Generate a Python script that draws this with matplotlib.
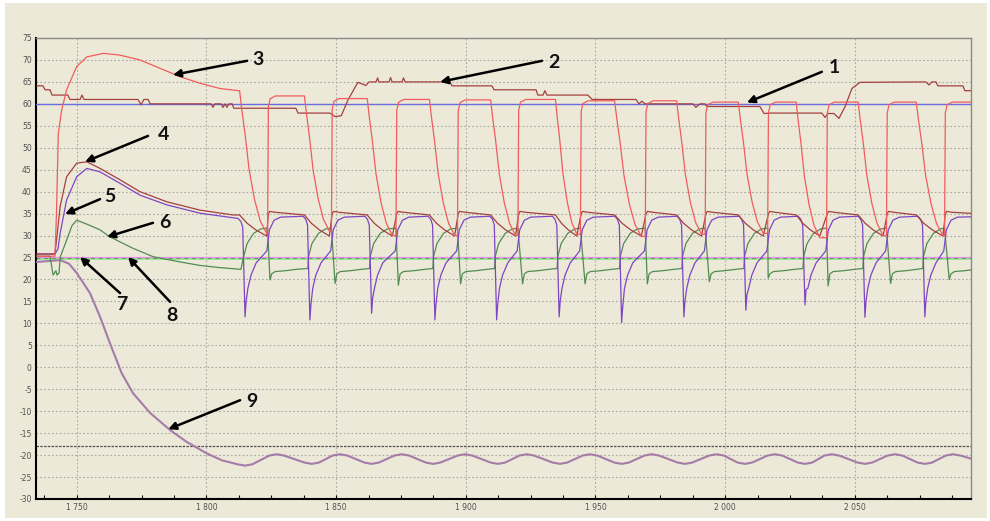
import matplotlib
matplotlib.use("Agg")
import matplotlib.pyplot as plt
from matplotlib.ticker import MultipleLocator
from matplotlib.patches import Rectangle

# -----------------------------
# Values
# -----------------------------
x_ticks = [1750, 1800, 1850, 1900, 1950, 2000, 2050]
x_tick_labels = ["1 750", "1 800", "1 850", "1 900", "1 950", "2 000", "2 050"]
y_ticks = [-30, -25, -20, -15, -10, -5, 0, 5, 10, 15, 20, 25, 30, 35, 40, 45, 50, 55, 60, 65, 70, 75]
x_range = [1734.3, 2094.8]
y_range = [-30, 75]

level_1 = 60.0      # trace 1
level_7 = 25.2      # trace 7
level_8 = 24.9      # trace 8
level_limit = -18.0

# trace 2 (stepped)
t2 = [1734.7, 1737.0, 1737.8, 1739.7, 1740.5, 1746.6, 1747.4, 1751.3, 1752.0, 1752.8,
      1773.6, 1774.8, 1775.9, 1777.5, 1778.3, 1801.8, 1802.5, 1803.3, 1805.6, 1806.4,
      1807.2, 1807.9, 1808.7, 1809.9, 1810.6, 1834.5, 1835.3, 1847.6, 1849.6, 1852.0,
      1854.6, 1858.4, 1861.5, 1862.7, 1865.4, 1866.0, 1866.5, 1870.4, 1871.0, 1871.6,
      1875.4, 1876.0, 1876.6, 1893.9, 1894.7, 1910.1, 1910.9, 1927.1, 1927.8, 1929.8,
      1930.5, 1931.3, 1947.1, 1948.7, 1965.6, 1966.8, 1967.9, 1969.1, 1987.6, 1988.7,
      1990.3, 1992.2, 1993.0, 2013.4, 2015.0, 2017.3, 2037.3, 2038.5, 2039.6, 2041.9,
      2043.9, 2046.2, 2048.9, 2052.0, 2077.4, 2078.6, 2079.7, 2081.3, 2082.0, 2091.7,
      2092.4, 2094.8]
v2 = [64.1, 64.1, 63.2, 63.2, 62.0, 62.0, 61.0, 61.0, 62.0, 61.0,
      61.0, 59.8, 61.0, 61.0, 60.0, 60.0, 59.2, 60.0, 60.0, 59.2,
      60.0, 59.2, 60.0, 60.0, 59.0, 59.0, 57.9, 57.9, 57.1, 57.3,
      60.9, 64.9, 64.2, 65.0, 65.0, 65.9, 65.0, 65.0, 66.0, 65.0,
      65.0, 65.9, 65.0, 65.0, 64.1, 64.1, 63.2, 63.2, 62.0, 62.0,
      63.0, 62.0, 62.0, 61.0, 61.0, 60.0, 60.6, 60.0, 60.0, 59.2,
      60.0, 60.0, 59.4, 59.4, 57.8, 57.9, 57.9, 56.9, 57.8, 57.8,
      56.7, 59.3, 63.5, 64.9, 65.0, 64.3, 65.0, 65.0, 64.1, 64.1,
      63.0, 63.0]

red_fall = [1812.8, 1837.8, 1862.0, 1886.0, 1909.6, 1934.6, 1957.4, 1981.3, 2005.1, 2027.4, 2051.3, 2073.7]
red_bottom = [1823.2, 1847.4, 1871.7, 1895.7, 1919.2, 1942.8, 1967.7, 1990.9, 2014.7, 2036.5, 2060.9, 2084.0]
red_rise = [1823.6, 1848.2, 1873.1, 1896.8, 1920.1, 1944.2, 1969.2, 1992.3, 2016.4, 2039.1, 2062.2, 2084.6]
red_top = [61.8, 61.2, 61.0, 60.9, 61.0, 60.7, 60.7, 60.4, 60.4, 60.4, 60.4, 60.4]
red_low = [30.5, 31.0, 30.0, 30.0, 30.0, 30.3, 29.8, 30.3, 30.5, 29.5, 30.0, 30.0]

purple_min_t = [1814.9, 1839.9, 1863.7, 1888.1, 1911.9, 1936.0, 1960.1, 1984.1, 2008.0, 2030.8, 2053.9, 2077.0]
purple_min = [11.5, 10.8, 12.3, 10.8, 10.8, 11.5, 10.2, 11.5, 13.0, 14.2, 11.4, 11.5]

green_dip_t = [1824.5, 1849.6, 1874.0, 1898.0, 1921.9, 1946.0, 1970.0, 1993.9, 2016.6, 2039.7, 2063.8, 2086.4]
green_dip = [19.9, 19.1, 18.7, 19.0, 19.0, 19.0, 19.0, 19.5, 20.3, 18.5, 19.1, 20.0]

# start-up part of each trace, before the cycling begins
t3_start = [1734.7, 1741.6, 1742.2, 1742.9, 1744.2, 1746.1, 1750.0, 1753.9, 1760.3, 1766.7,
            1774.4, 1782.1, 1789.8, 1797.5, 1805.2, 1812.3]
v3_start = [25.3, 25.3, 35.0, 53.3, 58.6, 63.2, 68.5, 70.7, 71.5, 71.1,
            70.0, 68.1, 66.2, 64.7, 63.5, 63.0]

t4_start = [1734.7, 1741.6, 1742.4, 1743.6, 1746.1, 1750.0, 1753.9, 1759.0, 1766.7, 1774.4,
            1784.7, 1797.5, 1810.2]
v4_start = [25.8, 25.8, 30.0, 36.6, 43.4, 46.5, 46.8, 45.3, 42.7, 40.0,
            37.7, 35.8, 34.7]

t5_start = [1734.7, 1741.6, 1742.8, 1743.6, 1746.1, 1750.0, 1753.9, 1759.0, 1766.7, 1774.4,
            1784.7, 1797.5, 1812.2]
v5_start = [25.8, 25.8, 27.0, 30.5, 38.1, 43.4, 45.3, 44.5, 41.9, 39.2,
            37.0, 35.1, 33.9]

t6_start = [1734.7, 1739.7, 1740.5, 1740.9, 1742.0, 1742.4, 1743.2, 1743.6, 1746.1, 1748.2,
            1750.0, 1753.9, 1759.0, 1762.8, 1771.7, 1779.4, 1789.8, 1797.5, 1805.2, 1813.3]
v6_start = [25.3, 25.3, 22.5, 21.0, 22.0, 21.0, 21.5, 25.0, 29.0, 32.3,
            33.5, 32.6, 31.3, 29.7, 27.1, 25.2, 24.0, 23.2, 22.7, 22.3]

red_fall_frac = [0.0, 0.08, 0.2, 0.35, 0.55, 0.76, 1.0]
red_fall_drop = [0.0, 0.13, 0.30, 0.55, 0.76, 0.91, 1.0]
red_rise_dx = [0.0, 0.3, 1.0, 3.0]
red_rise_frac = [0.0, 0.92, 0.98, 1.0]

b4_fall_frac = [0.0, 0.1, 0.28, 0.6, 1.0]
b4_fall_v = [34.7, 34.0, 32.8, 31.3, 29.9]
b4_rise_dx = [0.3, 0.8, 3.0]
b4_rise_v = [35.0, 35.5, 35.3]

p5_level = 34.4
p5_drop_dx = [-1.6, -0.9]
p5_drop_dv = [-0.7, -2.0]
p5_rec_dx = [1.1, 2.3, 4.3]
p5_rec_v = [18.0, 21.0, 23.8]
p5_before_rise = 26.5
p5_rise_dx = [0.7, 2.5, 5.0]
p5_rise_v = [31.3, 33.5, 34.2]

g6_plateau_end = 22.5
g6_rise_dx = [-0.5, 0.8, 3.3, 6.0]
g6_rise_v = [25.3, 28.2, 30.5, 31.5]
g6_peak = 31.7
g6_settle_dx = [0.7, 2.0, 6.0, 10.0]
g6_settle_v = [21.3, 21.8, 22.0, 22.3]

# trace 9: start-up descent, then the wave's turning points
t9_start = [1734.7, 1743.6, 1747.0, 1750.0, 1755.1, 1759.0, 1762.8, 1767.3, 1771.7, 1778.3,
            1786.0, 1792.4, 1800.1, 1806.0]
v9_start = [24.0, 24.4, 23.6, 21.5, 16.9, 11.5, 5.5, -1.3, -5.9, -10.4,
            -14.3, -17.0, -19.6, -21.2]
t9_turn = [1814.9, 1827.1, 1840.6, 1851.5, 1863.7, 1875.3, 1887.4, 1899.7, 1912.4, 1923.5,
           1936.3, 1947.9, 1960.1, 1971.7, 1984.5, 1996.7, 2007.6, 2019.2, 2030.8, 2041.1,
           2053.9, 2065.5, 2077.0, 2087.9]
v9_turn = [-22.4, -19.8, -22.0, -19.8, -22.0, -19.8, -22.0, -19.8, -22.0, -19.8,
           -22.0, -19.8, -22.0, -19.8, -22.0, -19.8, -22.0, -19.8, -22.0, -19.8,
           -22.0, -19.8, -22.0, -19.8]
v9_end = -20.8
turn_dx = 2.8      # width of the rounded turning points
turn_dv = 0.3

# callouts
labels = ["1", "2", "3", "4", "5", "6", "7", "8", "9"]
label_xy = [(2042.3, 68.2), (1934.0, 69.5), (1819.9, 70.2), (1783.3, 53.1), (1762.9, 38.8),
            (1784.0, 32.9), (1767.5, 14.2), (1786.8, 11.9), (1817.6, -7.9)]
arrow_tail = [(2037.3, 67.3), (1929.4, 69.8), (1815.7, 69.8), (1777.5, 52.7), (1759.0, 38.3),
              (1779.4, 32.9), (1766.7, 16.9), (1786.0, 14.9), (1813.0, -7.5)]
arrow_head = [(2008.4, 60.3), (1890.1, 65.0), (1787.1, 66.6), (1753.2, 46.8), (1745.5, 34.9),
              (1761.7, 29.7), (1751.3, 25.1), (1769.8, 25.1), (1785.3, -14.1)]


# -----------------------------
# Build the cycling traces
# -----------------------------
def build_red():
    t, v = list(t3_start), list(v3_start)
    top = v3_start[-1]
    for f, b, r, low, new_top in zip(red_fall, red_bottom, red_rise, red_low, red_top):
        for fr, dr in zip(red_fall_frac, red_fall_drop):
            t.append(f + fr * (b - f))
            v.append(top - dr * (top - low))
        for dx, fr in zip(red_rise_dx, red_rise_frac):
            t.append(r + dx)
            v.append(low + fr * (new_top - low))
        top = new_top
    t.append(x_range[1] + 2)
    v.append(top)
    return t, v


def build_brown():
    t, v = list(t4_start), list(v4_start)
    for f, b, r in zip(red_fall, red_bottom, red_rise):
        for fr, val in zip(b4_fall_frac, b4_fall_v):
            t.append(f + fr * (b - f))
            v.append(val)
        for dx, val in zip(b4_rise_dx, b4_rise_v):
            t.append(r + dx)
            v.append(val)
    t.append(x_range[1] + 2)
    v.append(35.0)
    return t, v


def build_purple():
    t, v = list(t5_start), list(v5_start)
    level = v5_start[-1]
    for i, (m, low, r) in enumerate(zip(purple_min_t, purple_min, red_rise)):
        if i > 0:
            t.append(m - 2.6)
            v.append(level)
        for dx, dv in zip(p5_drop_dx, p5_drop_dv):
            t.append(m + dx)
            v.append(level + dv)
        t.append(m)
        v.append(low)
        t.append(m + 0.4)
        v.append(low + 3.5)
        for dx, val in zip(p5_rec_dx, p5_rec_v):
            t.append(m + dx)
            v.append(val)
        t.append(r - 0.3)
        v.append(p5_before_rise)
        for dx, val in zip(p5_rise_dx, p5_rise_v):
            t.append(r + dx)
            v.append(val)
        level = p5_level
    t.append(x_range[1] + 2)
    v.append(34.3)
    return t, v


def build_green():
    t, v = list(t6_start), list(v6_start)
    for i, (m, r, g, dip) in enumerate(zip(purple_min_t, red_rise, green_dip_t, green_dip)):
        if i > 0:
            t.append(m - 0.8)
            v.append(g6_plateau_end)
        for dx, val in zip(g6_rise_dx, g6_rise_v):
            t.append(m + dx)
            v.append(val)
        t.append(r)
        v.append(g6_peak)
        t.append(g)
        v.append(dip)
        for dx, val in zip(g6_settle_dx, g6_settle_v):
            t.append(g + dx)
            v.append(val)
    return t, v


def build_wave():
    t, v = list(t9_start), list(v9_start)
    for tt, vv in zip(t9_turn, v9_turn):
        inward = turn_dv if vv < -20.9 else -turn_dv
        t += [tt - turn_dx, tt, tt + turn_dx]
        v += [vv + inward, vv, vv + inward]
    t.append(x_range[1])
    v.append(v9_end)
    return t, v


# -----------------------------
# Figure
# -----------------------------
bg = "#ECE9D8"
fig = plt.figure(figsize=(9.9, 5.21), dpi=100, facecolor="white")
fig.patches.append(Rectangle((5 / 990, 3 / 521), 982 / 990, 515 / 521,
                             transform=fig.transFigure, facecolor=bg, edgecolor="none", zorder=-10))
ax = fig.add_axes([36 / 990, 22 / 521, 935 / 990, 461 / 521])
ax.set_facecolor(bg)

ax.set_xlim(*x_range)
ax.set_ylim(*y_range)
ax.set_xticks(x_ticks)
ax.set_xticklabels(x_tick_labels)
ax.xaxis.set_minor_locator(MultipleLocator(12.5))
ax.set_yticks(y_ticks)
ax.set_yticklabels([str(y) for y in y_ticks])

ax.tick_params(axis="x", which="both", direction="in", length=3, width=0.8, color="black",
               labelsize=5.5, labelcolor="#505050", pad=3)
ax.tick_params(axis="y", which="both", length=0, labelsize=5.5, labelcolor="#505050", pad=3)

ax.set_axisbelow(True)
ax.grid(True, which="major", color="#A8A8A8", linestyle=(0, (1.5, 2)), linewidth=0.8)

for side in ["left", "bottom"]:
    ax.spines[side].set_color("black")
    ax.spines[side].set_linewidth(1.5)
for side in ["top", "right"]:
    ax.spines[side].set_color("#8A8A8A")
    ax.spines[side].set_linewidth(1.0)

# horizontal reference levels
ax.axhline(level_limit, color="#505050", linestyle=(0, (2, 1)), linewidth=0.9, zorder=2)
ax.axhline(level_8, color="#8EE88E", linewidth=2.0, zorder=2)
ax.axhline(level_8, color="#5F905F", linestyle=(0, (4, 4)), linewidth=0.7, zorder=2)
ax.axhline(level_7, color="#E590E5", linewidth=0.9, zorder=2)
ax.axhline(level_1, color="#6B6BE0", linewidth=1.0, zorder=3)

t3, v3 = build_red()
t4, v4 = build_brown()
t5, v5 = build_purple()
t6, v6 = build_green()
t9, v9 = build_wave()

ax.plot(t9, v9, color="#A57BA8", linewidth=1.5, zorder=3)
ax.plot(t6, v6, color="#528C52", linewidth=0.9, zorder=4)
ax.plot(t5, v5, color="#7E45C4", linewidth=0.9, zorder=4)
ax.plot(t4, v4, color="#A5403F", linewidth=0.9, zorder=4)
ax.plot(t2, v2, color="#A5403F", linewidth=0.9, zorder=4)
ax.plot(t3, v3, color="#F25C5C", linewidth=0.9, zorder=5)

for name, lxy, tail, head in zip(labels, label_xy, arrow_tail, arrow_head):
    ax.annotate("", xy=head, xytext=tail,
                arrowprops=dict(arrowstyle="-|>", color="black", lw=1.8,
                                mutation_scale=11, shrinkA=0, shrinkB=0), zorder=6)
    ax.text(lxy[0], lxy[1], name, fontsize=14, fontweight="bold", family=["Lato", "DejaVu Sans"],
            ha="center", va="center", color="#111111", zorder=7)

fig.savefig("out.png", dpi=100, facecolor=fig.get_facecolor())
